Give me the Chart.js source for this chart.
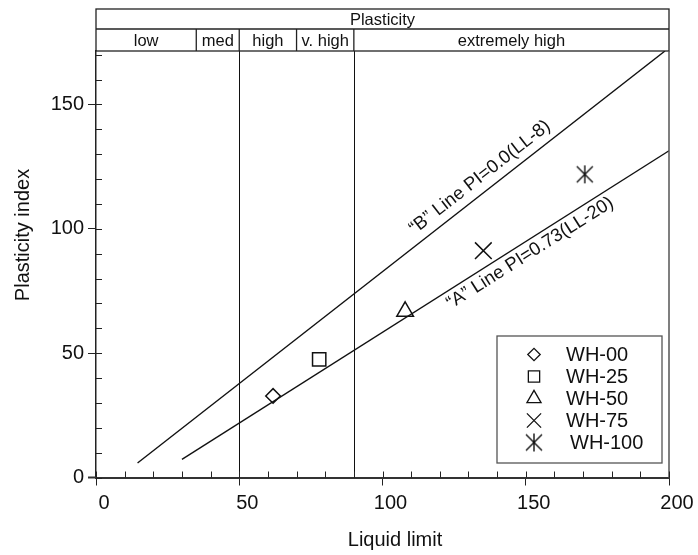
<!DOCTYPE html>
<html lang="en">
<head>
<meta charset="UTF-8" />
<title>Plasticity chart</title>
<script src="https://cdn.jsdelivr.net/npm/chart.js@4.4.1/dist/chart.umd.min.js"></script>
<style>
  html, body { margin: 0; padding: 0; background: #fff; }
  canvas { display: block; }
</style>
</head>
<body>
<canvas id="chart" width="698" height="555"></canvas>
<script>
  //data
  const samples = ['WH-00', 'WH-25', 'WH-50', 'WH-75', 'WH-100'];
  const liquidLimit = [61.8, 77.9, 107.9, 135.2, 170.6];
  const plasticityIndex = [32.8, 47.5, 66.8, 91.2, 121.9];

  const zoneEdges = [0, 35, 50, 70, 90, 200];
  const zoneNames = ['low', 'med', 'high', 'v. high', 'extremely high'];
  const zoneLines = [50, 90];

  const aLineLL = [30, 200];
  const aLinePI = [7.3, 131.4];
  const bLineLL = [14.5, 198.6];
  const bLinePI = [5.85, 171.5];

  const lineLabels = ['\u201cB\u201d Line PI=0.0(LL-8)', '\u201cA\u201d Line PI=0.73(LL-20)'];
  const labelLL = [134, 151.5];
  const labelPI = [120.7, 90.2];

  const xTitle = 'Liquid limit';
  const yTitle = 'Plasticity index';

  const FONT = "'Liberation Sans', Arial, Helvetica, sans-serif";

  // six-armed asterisk marker (x + vertical bar)
  const asterisk = document.createElement('canvas');
  asterisk.width = 22; asterisk.height = 22;
  (function () {
    const c = asterisk.getContext('2d');
    c.strokeStyle = '#111';
    c.lineWidth = 1.4;
    c.beginPath();
    c.moveTo(3, 3); c.lineTo(19, 19);
    c.moveTo(19, 3); c.lineTo(3, 19);
    c.moveTo(11, 2); c.lineTo(11, 20);
    c.stroke();
  })();

  const markers = ['rectRot', 'rect', 'triangle', 'crossRot', asterisk];
  const markerRadius = [7.3, 9.4, 9.6, 11.8, 11];

  const pointSets = samples.map((name, i) => ({
    label: name,
    data: [{ x: liquidLimit[i], y: plasticityIndex[i] }],
    pointStyle: markers[i],
    pointRadius: markerRadius[i],
    pointHoverRadius: markerRadius[i],
    pointBorderColor: '#111',
    pointBackgroundColor: 'rgba(0,0,0,0)',
    pointBorderWidth: 1.5,
    showLine: false
  }));

  const lineSet = (ll, pi, name) => ({
    label: name,
    data: ll.map((v, i) => ({ x: v, y: pi[i] })),
    showLine: true,
    borderColor: '#111',
    borderWidth: 1.4,
    pointRadius: 0,
    fill: false
  });

  function seg(ctx, x1, y1, x2, y2) {
    ctx.beginPath();
    ctx.moveTo(x1, y1);
    ctx.lineTo(x2, y2);
    ctx.stroke();
  }

  //plugin: zone lines, header, frame, minor ticks, labels, legend
  const framePlugin = {
    id: 'frame',
    beforeDatasetsDraw(chart) {
      const { ctx, chartArea: a, scales: { x } } = chart;
      ctx.save();
      ctx.strokeStyle = '#111';
      ctx.lineWidth = 1;
      zoneLines.forEach((v) => {
        const px = Math.round(x.getPixelForValue(v)) + 0.5;
        seg(ctx, px, a.top, px, a.bottom);
      });
      ctx.restore();
    },
    afterDraw(chart) {
      const { ctx, chartArea: a, scales: { x, y } } = chart;
      const top = 9, mid = 29;
      ctx.save();

      // header boxes
      ctx.strokeStyle = '#222';
      ctx.lineWidth = 1.3;
      ctx.strokeRect(a.left, top, a.right - a.left, a.top - top);
      seg(ctx, a.left, mid, a.right, mid);
      ctx.fillStyle = '#111';
      ctx.font = '16.5px ' + FONT;
      ctx.textAlign = 'center';
      ctx.textBaseline = 'middle';
      ctx.fillText('Plasticity', (a.left + a.right) / 2, (top + mid) / 2 + 1);
      zoneNames.forEach((name, i) => {
        const x0 = x.getPixelForValue(zoneEdges[i]);
        const x1 = x.getPixelForValue(zoneEdges[i + 1]);
        if (i > 0) seg(ctx, x0, mid, x0, a.top);
        ctx.fillText(name, (x0 + x1) / 2, (mid + a.top) / 2 + 1);
      });

      // right frame
      ctx.strokeStyle = '#555';
      ctx.lineWidth = 1.5;
      seg(ctx, a.right, a.top, a.right, a.bottom);

      // inward minor ticks
      ctx.strokeStyle = '#222';
      ctx.lineWidth = 1;
      for (let v = 0; v <= 200; v += 10) {
        const px = Math.round(x.getPixelForValue(v)) + 0.5;
        seg(ctx, px, a.bottom, px, a.bottom - 6);
      }
      for (let v = 0; v <= 170; v += 10) {
        const py = Math.round(y.getPixelForValue(v)) + 0.5;
        seg(ctx, a.left, py, a.left + 6, py);
      }
      // axis line runs a little past the y axis
      ctx.strokeStyle = '#333';
      ctx.lineWidth = 2;
      seg(ctx, a.left - 8, a.bottom, a.left, a.bottom);

      // axis titles
      ctx.fillStyle = '#111';
      ctx.font = '20px ' + FONT;
      ctx.fillText(xTitle, 395, 540);
      ctx.save();
      ctx.translate(23, 235);
      ctx.rotate(-Math.PI / 2);
      ctx.fillText(yTitle, 0, 0);
      ctx.restore();

      // rotated line labels
      const lines = [[bLineLL, bLinePI], [aLineLL, aLinePI]];
      ctx.font = '18.5px ' + FONT;
      lines.forEach(([ll, pi], i) => {
        const dx = x.getPixelForValue(ll[1]) - x.getPixelForValue(ll[0]);
        const dy = y.getPixelForValue(pi[1]) - y.getPixelForValue(pi[0]);
        ctx.save();
        ctx.translate(x.getPixelForValue(labelLL[i]), y.getPixelForValue(labelPI[i]));
        ctx.rotate(Math.atan2(dy, dx));
        ctx.fillText(lineLabels[i], 0, 0);
        ctx.restore();
      });

      // legend
      const bx = 497, by = 336, bw = 165, bh = 127;
      ctx.fillStyle = '#fff';
      ctx.fillRect(bx, by, bw, bh);
      ctx.strokeStyle = '#555';
      ctx.lineWidth = 1.3;
      ctx.strokeRect(bx, by, bw, bh);
      ctx.font = '20px ' + FONT;
      ctx.textAlign = 'left';
      samples.forEach((name, i) => {
        const ry = 354.5 + 22 * i;
        ctx.strokeStyle = '#111';
        ctx.fillStyle = 'rgba(0,0,0,0)';
        ctx.lineWidth = 1.3;
        Chart.helpers.drawPoint(ctx, {
          pointStyle: markers[i],
          radius: markerRadius[i] * 0.85,
          rotation: 0,
          borderWidth: 1.3
        }, 534, ry);
        ctx.fillStyle = '#111';
        ctx.fillText(name, i === 4 ? 570 : 566, ry + 1);
      });

      ctx.restore();
    }
  };

  //config
  const config = {
    type: 'scatter',
    data: {
      datasets: [
        lineSet(bLineLL, bLinePI, 'B line'),
        lineSet(aLineLL, aLinePI, 'A line'),
        ...pointSets
      ]
    },
    options: {
      responsive: false,
      animation: false,
      devicePixelRatio: 1,
      layout: { padding: { top: 51, right: 29, left: 0, bottom: 0 } },
      plugins: {
        legend: { display: false },
        tooltip: { enabled: false },
        title: { display: false }
      },
      scales: {
        x: {
          type: 'linear',
          min: 0,
          max: 200,
          afterFit: (s) => { s.height = 77.5; },
          ticks: {
            stepSize: 50,
            padding: 6,
            labelOffset: 8,
            color: '#111',
            font: { family: FONT, size: 20 }
          },
          grid: { drawOnChartArea: false, drawTicks: true, tickLength: 8, color: '#222', lineWidth: 1 },
          border: { display: true, color: '#333', width: 2 },
          title: { display: false }
        },
        y: {
          type: 'linear',
          min: 0,
          max: 171.5,
          afterFit: (s) => { s.width = 96; },
          ticks: {
            stepSize: 50,
            includeBounds: false,
            padding: 4,
            color: '#111',
            font: { family: FONT, size: 20 }
          },
          grid: { drawOnChartArea: false, drawTicks: true, tickLength: 8, color: '#222', lineWidth: 1 },
          border: { display: true, color: '#222', width: 1.5 },
          title: { display: false }
        }
      }
    },
    plugins: [framePlugin]
  };

  //init
  const chart = new Chart(document.getElementById('chart'), config);
</script>
</body>
</html>
